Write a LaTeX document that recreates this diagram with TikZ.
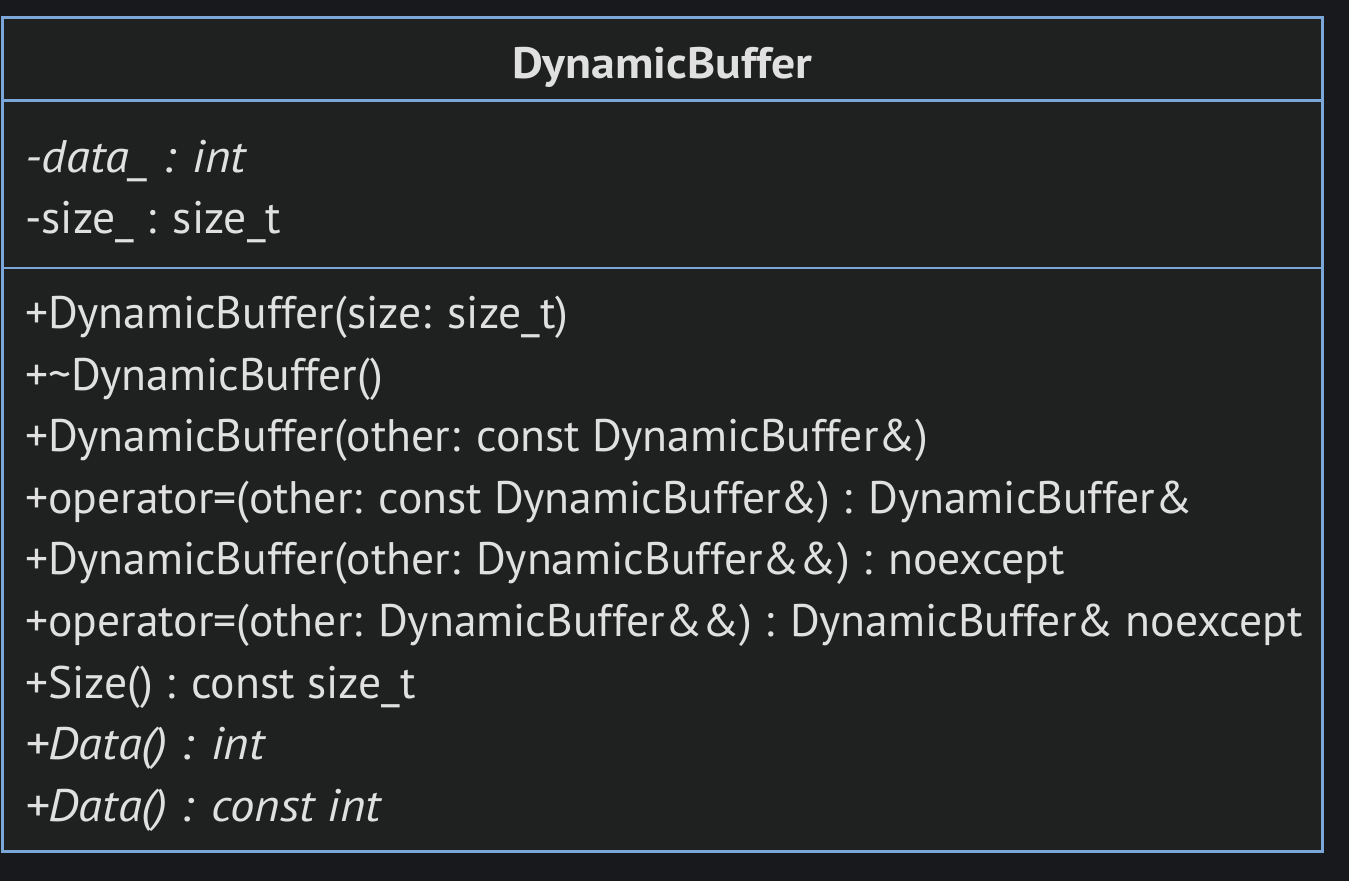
\documentclass[tikz,border=0pt]{standalone}
\usepackage{fontspec}
\setmainfont{PT Sans}
\definecolor{bgc}{HTML}{18191D}
\definecolor{boxc}{HTML}{1F2121}
\definecolor{edgec}{HTML}{7AA6D8}
\definecolor{txtc}{HTML}{E0E0E0}
\begin{document}
\begin{tikzpicture}[x=1pt,y=1pt,
  row/.style={anchor=base west,inner sep=0pt,text=txtc,font=\fontsize{45.6}{52}\selectfont},
  irow/.style={row,font=\fontsize{45.6}{52}\selectfont\itshape,xscale=1.07},
  head/.style={anchor=base,inner sep=0pt,text=txtc,font=\fontsize{44}{50}\selectfont\bfseries,xscale=1.085}]
\fill[bgc] (0,0) rectangle (1349,-881);
\useasboundingbox (0,0) rectangle (1349,-881);
\draw[edgec,line width=2.2pt,fill=boxc] (2.5,-17.5) rectangle (1322.5,-851.5);
\draw[edgec,line width=2.2pt] (2.5,-100.5) -- (1322.5,-100.5);
\draw[edgec,line width=2.2pt] (2.5,-268) -- (1322.5,-268);
\node[head] (title) at (662.5,-78) {DynamicBuffer};
\node[irow] (a1) at (25,-172) {-data\_ : int};
\node[row] (a2) at (25,-233.5) {-size\_ : size\_t};
\node[row] (m1) at (25,-328) {+DynamicBuffer(size: size\_t)};
\node[row] (m2) at (25,-390) {+\textasciitilde DynamicBuffer()};
\node[row] (m3) at (25,-451) {+DynamicBuffer(other: const DynamicBuffer\&)};
\node[row] (m4) at (25,-513) {+operator=(other: const DynamicBuffer\&) : DynamicBuffer\&};
\node[row] (m5) at (25,-574) {+DynamicBuffer(other: DynamicBuffer\&\&) : noexcept};
\node[row] (m6) at (25,-636) {+operator=(other: DynamicBuffer\&\&) : DynamicBuffer\& noexcept};
\node[row] (m7) at (25,-698) {+Size() : const size\_t};
\node[irow] (m8) at (25,-759) {+Data() : int};
\node[irow] (m9) at (25,-821) {+Data() : const int};
\end{tikzpicture}
\end{document}
